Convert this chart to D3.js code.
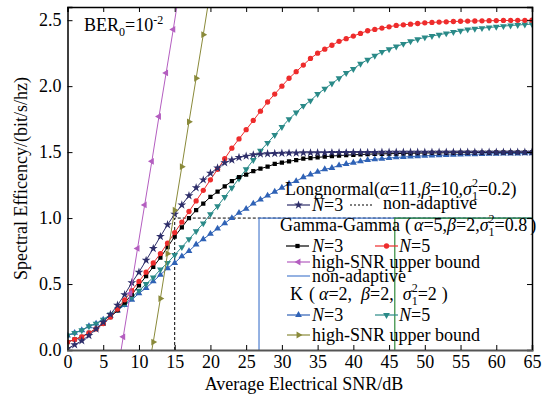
<!DOCTYPE html>
<html>
<head>
<meta charset="utf-8">
<script src="https://cdn.jsdelivr.net/npm/d3@7"></script>
<style>
  body { margin: 0; background: #fff; }
  svg text { font-family: "Liberation Serif", "Times New Roman", serif; }
</style>
</head>
<body>
<div id="chart"></div>
<script>
// SNR grid (dB)
var snr = d3.range(0, 66);

// Lognormal, N=3
var lnN3 = [0.01,0.04,0.07,0.11,0.16,0.21,0.27,0.34,0.42,0.51,
  0.59,0.68,0.77,0.86,0.95,1.03,1.10,1.17,1.23,1.29,
  1.34,1.38,1.42,1.44,1.46,1.47,1.48,1.485,1.488,1.49,
  1.492,1.493,1.494,1.495,1.495,1.496,1.496,1.497,1.497,1.497,
  1.498,1.498,1.498,1.498,1.499,1.499,1.499,1.499,1.499,1.499,
  1.5,1.5,1.5,1.5,1.5,1.5,1.5,1.5,1.5,1.5,
  1.5,1.5,1.5,1.5,1.5,1.5];
// Gamma-Gamma, N=3 / N=5
var ggN3 = [0.06,0.08,0.10,0.13,0.16,0.20,0.25,0.30,0.36,0.42,
  0.49,0.56,0.63,0.70,0.78,0.86,0.93,1.00,1.06,1.11,
  1.16,1.20,1.24,1.28,1.31,1.33,1.355,1.375,1.39,1.41,
  1.42,1.43,1.44,1.45,1.455,1.46,1.465,1.47,1.474,1.477,
  1.48,1.482,1.484,1.486,1.487,1.488,1.489,1.49,1.491,1.492,
  1.493,1.494,1.494,1.495,1.495,1.496,1.496,1.497,1.497,1.497,
  1.498,1.498,1.498,1.499,1.499,1.499];
var ggN5 = [0.06,0.08,0.10,0.13,0.16,0.20,0.25,0.31,0.38,0.45,
  0.52,0.59,0.66,0.73,0.81,0.89,0.97,1.05,1.13,1.21,
  1.29,1.37,1.45,1.53,1.60,1.67,1.74,1.81,1.88,1.94,
  2.00,2.06,2.11,2.16,2.21,2.25,2.28,2.31,2.34,2.36,
  2.38,2.40,2.42,2.43,2.44,2.45,2.46,2.465,2.47,2.475,
  2.48,2.483,2.486,2.488,2.49,2.492,2.493,2.494,2.495,2.496,
  2.497,2.498,2.498,2.499,2.499,2.5];
// K, N=3 / N=5
var kN3 = [0.11,0.13,0.15,0.18,0.20,0.23,0.26,0.30,0.34,0.38,
  0.43,0.47,0.52,0.57,0.62,0.66,0.71,0.75,0.80,0.84,
  0.88,0.92,0.96,1.00,1.04,1.07,1.11,1.14,1.17,1.20,
  1.23,1.26,1.28,1.31,1.33,1.35,1.37,1.38,1.40,1.41,
  1.42,1.43,1.44,1.445,1.45,1.455,1.46,1.463,1.466,1.469,
  1.472,1.474,1.476,1.478,1.48,1.482,1.483,1.484,1.486,1.487,
  1.488,1.489,1.49,1.49,1.491,1.492];
var kN5 = [0.11,0.13,0.15,0.18,0.20,0.23,0.27,0.31,0.35,0.40,
  0.45,0.50,0.55,0.61,0.66,0.72,0.78,0.84,0.90,0.96,
  1.03,1.09,1.16,1.23,1.30,1.37,1.44,1.51,1.57,1.63,
  1.69,1.75,1.80,1.85,1.89,1.94,1.98,2.02,2.06,2.10,
  2.13,2.17,2.20,2.23,2.26,2.28,2.30,2.32,2.34,2.355,
  2.37,2.38,2.39,2.40,2.41,2.42,2.43,2.435,2.44,2.445,
  2.45,2.455,2.46,2.463,2.467,2.47];

// high-SNR upper bounds
var ggUbX = [7.5, 7.8, 8.8, 9.8, 10.8, 11.8, 12.8, 13.8, 14.8, 15.8];
var ggUb  = [0, 0.10, 0.43, 0.77, 1.10, 1.43, 1.77, 2.10, 2.43, 2.77];
var kUbX  = [11.8, 12, 13, 14, 15, 16, 17, 18, 19, 20];
var kUb   = [0, 0.06, 0.39, 0.73, 1.06, 1.39, 1.73, 2.06, 2.39, 2.73];

// non-adaptive thresholds (dB) and rate
var naLevel = 1.0;
var lnNa = 15, ggNa = 26.8, kNa = 45.8;

var xTicks = d3.range(0, 66, 5);
var yTicks = [0, 0.5, 1.0, 1.5, 2.0, 2.5];

var W = 542, H = 399;
var margin = {top: 7, right: 10, bottom: 49, left: 67.5},
    width = W - margin.left - margin.right,
    height = H - margin.top - margin.bottom;

var x = d3.scaleLinear().domain([0, 65]).range([0, width]);
var y = d3.scaleLinear().domain([0, 2.6]).range([height, 0]);

var svg = d3.select("#chart").append("svg")
    .attr("width", W).attr("height", H);
var g = svg.append("g")
    .attr("transform", "translate(" + margin.left + "," + margin.top + ")");

g.append("clipPath").attr("id", "clip")
  .append("rect").attr("width", width).attr("height", height);

var plot = g.append("g").attr("clip-path", "url(#clip)");

var C = {
  ln: "#2e2e6a", gg3: "#000000", gg5: "#ee2c2c", ggUb: "#b45ec0",
  ggNa: "#4f7fcf", k3: "#2f62b6", k5: "#2a8a88", kUb: "#8a8a3a", kNa: "#2f8a3a"
};

// non-adaptive step lines
function naPath(t) {
  return d3.line()([[x(t), y(0)], [x(t), y(naLevel)], [x(65), y(naLevel)]]);
}
plot.append("path").attr("d", naPath(lnNa)).attr("fill", "none")
  .attr("stroke", "#000").attr("stroke-width", 1).attr("stroke-dasharray", "3,2");
plot.append("path").attr("d", naPath(ggNa)).attr("fill", "none")
  .attr("stroke", C.ggNa).attr("stroke-width", 1.2);
plot.append("path").attr("d", naPath(kNa)).attr("fill", "none")
  .attr("stroke", C.kNa).attr("stroke-width", 1.2);

var line = d3.line().x(function(d) { return x(d[0]); }).y(function(d) { return y(d[1]); });

var symStar = d3.symbol().type(d3.symbolStar).size(24)();
var symSq = d3.symbol().type(d3.symbolSquare).size(18)();
var symCirc = d3.symbol().type(d3.symbolCircle).size(22)();
var symTri = d3.symbol().type(d3.symbolTriangle).size(20)();

var series = [
  {xs: snr, ys: kN3, color: C.k3, sym: symTri, rot: 0},
  {xs: snr, ys: kN5, color: C.k5, sym: symTri, rot: 180},
  {xs: snr, ys: ggN3, color: C.gg3, sym: symSq, rot: 0},
  {xs: snr, ys: ggN5, color: C.gg5, sym: symCirc, rot: 0},
  {xs: snr, ys: lnN3, color: C.ln, sym: symStar, rot: 0},
  {xs: ggUbX, ys: ggUb, color: C.ggUb, sym: symTri, rot: -90},
  {xs: kUbX, ys: kUb, color: C.kUb, sym: symTri, rot: 90}
];

series.forEach(function(s) {
  var pts = s.xs.map(function(v, i) { return [v, s.ys[i]]; });
  plot.append("path").datum(pts)
    .attr("d", line).attr("fill", "none")
    .attr("stroke", s.color).attr("stroke-width", 1);
  plot.selectAll(null).data(pts.filter(function(d) { return d[1] > 0; }))
    .enter().append("path")
    .attr("d", s.sym)
    .attr("fill", s.color)
    .attr("transform", function(d) {
      return "translate(" + x(d[0]) + "," + y(d[1]) + ") rotate(" + s.rot + ")";
    });
});

// axes
var fmt = d3.format(".1f");
g.append("g").attr("class", "axis")
  .call(d3.axisLeft(y).tickValues(yTicks).tickFormat(fmt).tickSize(-5).tickPadding(6));
g.append("g").attr("class", "axis")
  .attr("transform", "translate(" + width + ",0)")
  .call(d3.axisRight(y).tickValues(yTicks).tickFormat("").tickSize(-5));
g.append("g").attr("class", "axis")
  .call(d3.axisTop(x).tickValues(xTicks).tickFormat("").tickSize(-5));
var xa = g.append("g").attr("class", "axis xa")
  .attr("transform", "translate(0," + height + ")")
  .call(d3.axisBottom(x).tickValues(xTicks).tickFormat(d3.format("d")).tickSize(-5).tickPadding(5));

g.selectAll(".axis path.domain").attr("stroke", "#000").attr("stroke-width", 1.5);
g.selectAll(".axis .tick line").attr("stroke", "#000").attr("stroke-width", 1);
g.selectAll(".axis text").attr("font-size", 18).attr("fill", "#000")
  .style("font-family", "'Liberation Serif', serif");
xa.select("path.domain").attr("stroke", "#555").attr("stroke-width", 2);

// axis titles
svg.append("text")
  .attr("x", 304).attr("y", 390)
  .attr("text-anchor", "middle").attr("font-size", 18)
  .text("Average Electrical SNR/dB");
svg.append("text")
  .attr("transform", "translate(27," + (margin.top + height / 2) + ") rotate(-90)")
  .attr("text-anchor", "middle").attr("font-size", 18)
  .text("Spectral Efficency/(bit/s/hz)");

// BER annotation
var ber = svg.append("text").attr("x", 84).attr("y", 31).attr("font-size", 18);
ber.append("tspan").text("BER");
ber.append("tspan").attr("dy", 5).attr("font-size", 12).text("0");
ber.append("tspan").attr("dy", -5).text("=10");
ber.append("tspan").attr("dy", -7).attr("font-size", 12).text("-2");

// legend
var lg = svg.append("g");

function rich(xp, yp, parts) {
  var t = lg.append("text").attr("x", xp).attr("y", yp).attr("font-size", 18);
  parts.forEach(function(p) {
    var s = t.append("tspan").text(p.t);
    if (p.i) s.attr("font-style", "italic");
    if (p.dy) s.attr("dy", p.dy);
    if (p.fs) s.attr("font-size", p.fs);
    if (p.dx) s.attr("dx", p.dx);
  });
  return t;
}
function sample(x0, yp, color, sym, rot, dash) {
  lg.append("line").attr("x1", x0).attr("x2", x0 + 23).attr("y1", yp).attr("y2", yp)
    .attr("stroke", color).attr("stroke-width", 1.2)
    .attr("stroke-dasharray", dash || null);
  if (sym) {
    lg.append("path").attr("d", sym).attr("fill", color)
      .attr("transform", "translate(" + (x0 + 11.5) + "," + yp + ") rotate(" + rot + ")");
  }
}
function sigma(v) {
  return [
    {t: "σ", i: true},
    {t: "1", fs: 12, dy: 5},
    {t: "2", fs: 12, dy: -13, dx: -6},
    {t: "=" + v, dy: 8}
  ];
}

rich(285, 195, [{t: "Longnormal("}, {t: "α", i: true}, {t: "=11,"}, {t: "β", i: true}, {t: "=10,"}]
  .concat(sigma("0.2")).concat([{t: ")"}]));
sample(287, 205, C.ln, symStar, 0);
rich(312, 211, [{t: "N", i: true}, {t: "=3"}]);
sample(350, 205, "#000", null, 0, "2,2");
rich(383, 209, [{t: "non-adaptive"}]);

rich(280, 231, [{t: "Gamma-Gamma"}, {t: "(", dx: 5}, {t: "α", i: true, dx: 3}, {t: "=5,"},
  {t: "β", i: true}, {t: "=2,"}]
  .concat(sigma("0.8")).concat([{t: ")", dx: 3}]));
sample(286, 246, C.gg3, symSq, 0);
rich(312, 252, [{t: "N", i: true}, {t: "=3"}]);
sample(375, 246, C.gg5, symCirc, 0);
rich(399, 252, [{t: "N", i: true}, {t: "=5"}]);
sample(287, 262, C.ggUb, symTri, -90);
rich(312, 268, [{t: "high-SNR upper bound"}]);
sample(287, 276, C.ggNa, null, 0);
rich(312, 282, [{t: "non-adaptive"}]);

rich(290, 300, [{t: "K"}, {t: "(", dx: 6}, {t: "α", i: true, dx: 4}, {t: "=2,"},
  {t: "β", i: true, dx: 9}, {t: "=2,"}, {t: "σ", i: true, dx: 9},
  {t: "1", fs: 12, dy: 5}, {t: "2", fs: 12, dy: -13, dx: -6}, {t: "=2", dy: 8}, {t: ")", dx: 5}]);
sample(287, 315, C.k3, symTri, 0);
rich(312, 321, [{t: "N", i: true}, {t: "=3"}]);
sample(375, 315, C.k5, symTri, 180);
rich(399, 321, [{t: "N", i: true}, {t: "=5"}]);
sample(287, 335, C.kUb, symTri, 90);
rich(312, 341, [{t: "high-SNR upper bound"}]);
</script>
</body>
</html>
